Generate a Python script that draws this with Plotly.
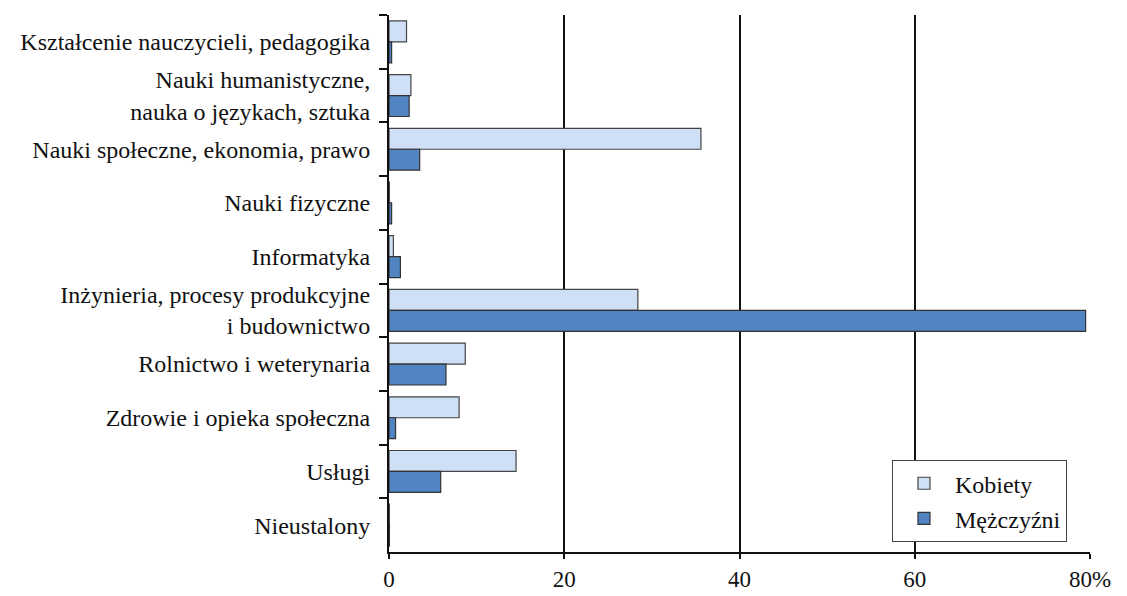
import plotly.graph_objects as go

categories = [
    "Kształcenie nauczycieli, pedagogika",
    "Nauki humanistyczne,<br>nauka o językach, sztuka",
    "Nauki społeczne, ekonomia, prawo",
    "Nauki fizyczne",
    "Informatyka",
    "Inżynieria, procesy produkcyjne<br>i budownictwo",
    "Rolnictwo i weterynaria",
    "Zdrowie i opieka społeczna",
    "Usługi",
    "Nieustalony",
]
kobiety = [2.0, 2.5, 35.6, 0.05, 0.5, 28.4, 8.7, 8.0, 14.5, 0.05]
mezczyzni = [0.3, 2.3, 3.5, 0.3, 1.3, 79.5, 6.5, 0.75, 5.9, 0.05]

x_tickvals = [0, 20, 40, 60, 80]
x_ticktext = ["0", "20", "40", "60", "80%"]

FONT = "Liberation Serif"

fig = go.Figure()
fig.add_trace(go.Bar(
    y=categories, x=kobiety, orientation="h", name="Kobiety",
    marker=dict(color="#cfe0f6", line=dict(color="#444444", width=1.2)),
    legendgroup="k",
))
fig.add_trace(go.Bar(
    y=categories, x=mezczyzni, orientation="h", name="Mężczyźni",
    marker=dict(color="#5283c2", line=dict(color="#333333", width=1.2)),
    legendgroup="m",
))

fig.update_layout(
    width=1119, height=588,
    margin=dict(l=381, r=37, t=7, b=44, autoexpand=False),
    paper_bgcolor="white", plot_bgcolor="white",
    barmode="group", bargap=0.22, bargroupgap=0,
    font=dict(family=FONT, size=24, color="#111111"),
    legend=dict(
        x=0.7175, y=0.171, xanchor="left", yanchor="top",
        bgcolor="white", bordercolor="#444444", borderwidth=1,
        font=dict(family=FONT, size=24),
        traceorder="grouped", tracegroupgap=1, itemwidth=52,
    ),
    xaxis=dict(
        range=[0, 80], tickvals=x_tickvals, ticktext=x_ticktext,
        showgrid=True, gridcolor="#111111", gridwidth=1.5,
        showline=True, linecolor="#111111", linewidth=2,
        ticks="outside", ticklen=5, tickcolor="#111111", tickwidth=1.5,
        zeroline=False, fixedrange=True, automargin=False,
        tickfont=dict(size=23),
    ),
    yaxis=dict(
        autorange="reversed", tickson="boundaries",
        ticks="outside", ticklen=8, tickcolor="#111111", tickwidth=2,
        showline=True, linecolor="#111111", linewidth=2,
        showgrid=False, zeroline=False, automargin=False,
        ticklabelstandoff=12,
    ),
)

fig.write_html("out.html")
